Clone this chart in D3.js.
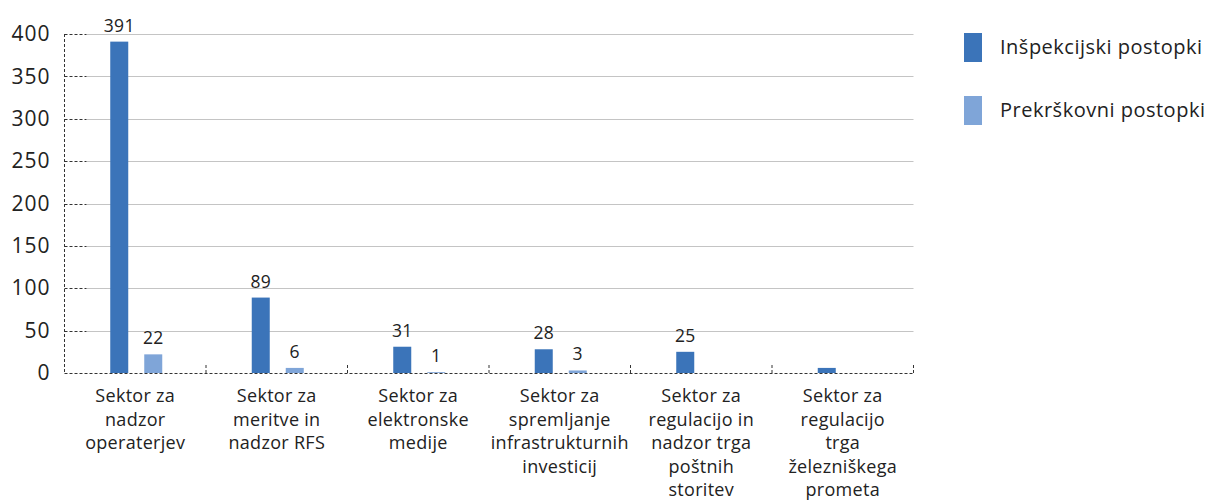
<!DOCTYPE html>
<html><head><meta charset="utf-8">
<script src="https://cdn.jsdelivr.net/npm/d3@7"></script>
<style>
body{margin:0;background:#fff;}
svg{display:block;font-family:"Open Sans",sans-serif;}
</style></head>
<body>
<svg id="c" width="1211" height="501"></svg>
<script>
const categories = [
  ["Sektor za","nadzor","operaterjev"],
  ["Sektor za","meritve in","nadzor RFS"],
  ["Sektor za","elektronske","medije"],
  ["Sektor za","spremljanje","infrastrukturnih","investicij"],
  ["Sektor za","regulacijo in","nadzor trga","poštnih","storitev"],
  ["Sektor za","regulacijo","trga","železniškega","prometa"]
];
const seriesNames = ["Inšpekcijski postopki","Prekrškovni postopki"];
const inspekcijski = [391, 89, 31, 28, 25, 6];
const prekrskovni = [22, 6, 1, 3, 0, 0];
const inspekcijskiLabels = ["391","89","31","28","25",""];
const prekrskovniLabels = ["22","6","1","3","",""];
const yTicks = [0,50,100,150,200,250,300,350,400];
const colors = ["#3b74b9","#7fa5d8"];

const svg = d3.select("#c");
const mLeft = 64.5, mRight = 913.5, mTop = 34, mBottom = 373;
const x = d3.scaleBand().domain(d3.range(categories.length)).range([mLeft, mRight]).padding(0);
const y = d3.scaleLinear().domain([0,400]).range([mBottom, mTop]);
const inner = d3.scaleBand().domain([0,1]).range([0,52]).paddingInner(16/34).paddingOuter(0);

// gridlines
svg.append("g").selectAll("line").data(yTicks.filter(d=>d>0)).enter().append("line")
  .attr("x1", mLeft+22).attr("x2", mRight)
  .attr("y1", d=>Math.round(y(d))+0.5).attr("y2", d=>Math.round(y(d))+0.5)
  .attr("stroke","#c4c4c4").attr("stroke-width",1);

// bars
const series = [inspekcijski, prekrskovni];
const labels = [inspekcijskiLabels, prekrskovniLabels];
series.forEach((vals, si) => {
  svg.append("g").selectAll("rect").data(vals).enter().append("rect")
    .attr("x", (d,i)=> x(i) + x.bandwidth()/2 - 26 + inner(si) + 1)
    .attr("width", inner.bandwidth())
    .attr("y", d=>y(d))
    .attr("height", d=>Math.max(0, mBottom - y(d)))
    .attr("fill", colors[si]);
  svg.append("g").selectAll("text").data(vals).enter().append("text")
    .attr("x", (d,i)=> x(i) + x.bandwidth()/2 - 26 + inner(si) + 1 + inner.bandwidth()/2)
    .attr("y", d=>y(d) - 10)
    .attr("text-anchor","middle")
    .attr("font-size", 17.5).attr("letter-spacing", 0.3).attr("fill","#222")
    .text((d,i)=>labels[si][i]);
});

// y axis
const yAxis = d3.axisLeft(y).tickValues(yTicks).tickSize(0).tickPadding(14);
const ya = svg.append("g").attr("transform",`translate(${mLeft},0)`).call(yAxis);
ya.select(".domain").remove();
ya.selectAll("text").attr("font-size",21).attr("letter-spacing",1).attr("fill","#222").attr("font-family","Open Sans, sans-serif");
svg.append("line").attr("x1",mLeft).attr("x2",mLeft).attr("y1",mTop).attr("y2",mBottom)
  .attr("stroke","#333").attr("stroke-dasharray","3,2");
svg.append("g").selectAll("line").data(yTicks.filter(d=>d>0)).enter().append("line")
  .attr("x1",mLeft).attr("x2",mLeft+22)
  .attr("y1", d=>Math.round(y(d))+0.5).attr("y2", d=>Math.round(y(d))+0.5)
  .attr("stroke","#333").attr("stroke-dasharray","3,2");

// x axis baseline
svg.append("line").attr("x1",mLeft).attr("x2",mRight).attr("y1",mBottom+0.5).attr("y2",mBottom+0.5)
  .attr("stroke","#333").attr("stroke-dasharray","3,2");
svg.append("g").selectAll("line").data(d3.range(1,categories.length+1)).enter().append("line")
  .attr("x1", i=> i<categories.length ? x(i) : mRight).attr("x2", i=> i<categories.length ? x(i) : mRight)
  .attr("y1", mBottom-8).attr("y2", mBottom)
  .attr("stroke","#333").attr("stroke-dasharray","3,2");

// category labels
const cl = svg.append("g").selectAll("text").data(categories).enter().append("text")
  .attr("x",(d,i)=>x(i)+x.bandwidth()/2)
  .attr("y", 402)
  .attr("text-anchor","middle").attr("font-size",18).attr("letter-spacing",0.3).attr("fill","#222");
cl.selectAll("tspan").data(d=>d).enter().append("tspan")
  .attr("x", function(){ return this.parentNode.getAttribute("x"); })
  .attr("dy",(d,i)=> i===0 ? 0 : 23.5)
  .text(d=>d);

// legend
const lg = svg.append("g");
seriesNames.forEach((n,i)=>{
  lg.append("rect").attr("x",964).attr("y",33+i*63).attr("width",18).attr("height",29).attr("fill",colors[i]);
  lg.append("text").attr("x",1000).attr("y",47+i*63).attr("dy","0.35em")
    .attr("font-size",20).attr("letter-spacing",0.5).attr("fill","#222").text(n);
});
</script>
</body></html>
